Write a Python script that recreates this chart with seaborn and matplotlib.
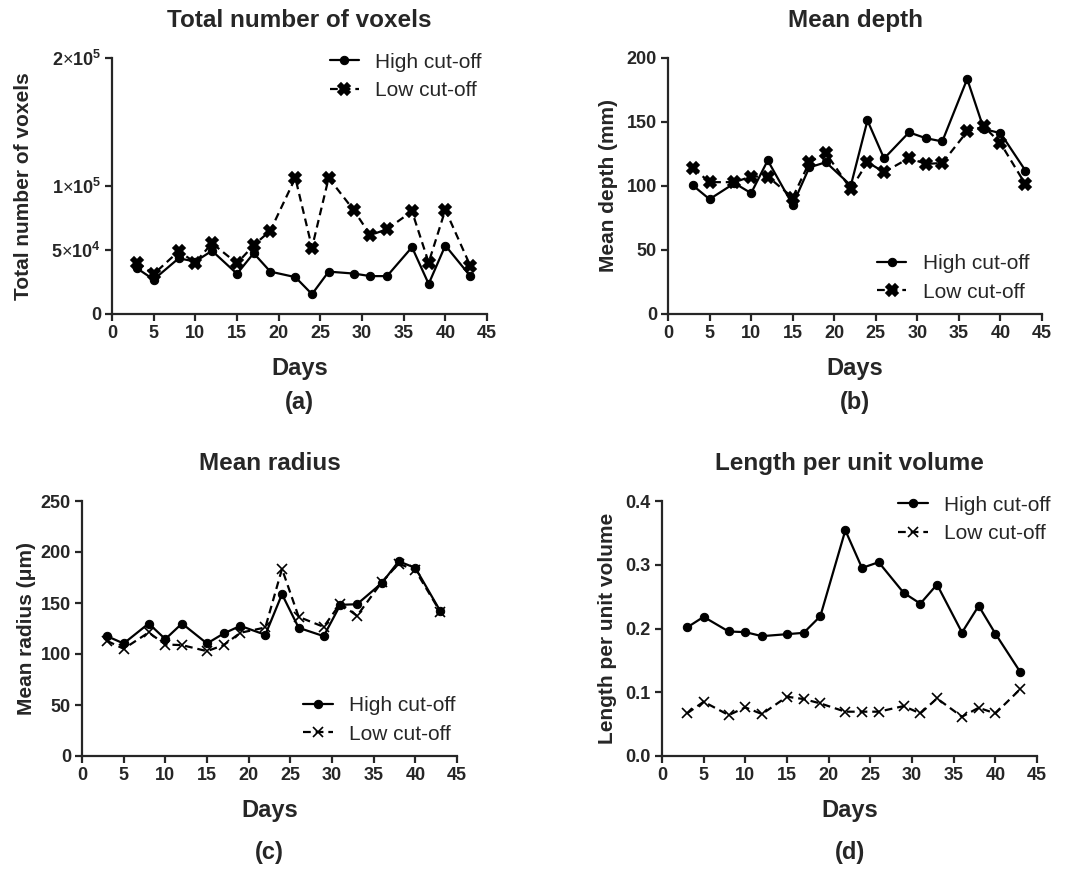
import numpy as np
import matplotlib
matplotlib.use('Agg')
import matplotlib.pyplot as plt
import pandas as pd
import seaborn as sns

days = [3, 5, 8, 10, 12, 15, 17, 19, 22, 24, 26, 29, 31, 33, 36, 38, 40, 43]

voxels_high = [35700, 26900, 43500, 41000, 49400, 31400, 47500, 33100, 28800, 15500,
               33100, 31600, 29600, 29600, 52200, 23500, 53500, 29600]
voxels_low = [40200, 31200, 49000, 40200, 55300, 39600, 53700, 65100, 106300, 51800,
              106300, 81200, 61600, 66300, 80200, 40200, 81400, 37600]

depth_high = [100.4, 89.7, 102.2, 94.4, 120.0, 85.3, 114.5, 118.6, 100.4, 151.2,
              121.5, 141.9, 137.4, 134.8, 183.6, 144.5, 141.3, 112.1]
depth_low = [114.0, 103.0, 103.0, 107.4, 107.4, 91.0, 118.4, 125.7, 97.5, 118.6,
             110.8, 121.8, 117.3, 117.9, 142.6, 146.5, 133.5, 101.4]

radius_high = [117.5, 110.3, 129.9, 114.6, 129.9, 110.3, 120.1, 127.6, 118.8, 158.6,
               125.7, 117.5, 148.2, 148.8, 169.7, 190.9, 184.4, 142.0]
radius_low = [112.9, 105.1, 121.1, 109.3, 108.7, 102.8, 108.7, 120.8, 126.0, 183.4,
              136.4, 126.6, 149.5, 137.4, 170.7, 188.6, 182.1, 141.3]

length_high = [0.2016, 0.2183, 0.1953, 0.1943, 0.188, 0.1911, 0.1932, 0.2193, 0.354, 0.295,
               0.304, 0.256, 0.239, 0.269, 0.1937, 0.2355, 0.192, 0.1316]
length_low = [0.0668, 0.0851, 0.0642, 0.0762, 0.0658, 0.093, 0.0893, 0.0825, 0.0695, 0.0695,
              0.0695, 0.0783, 0.0668, 0.0903, 0.0616, 0.0757, 0.0668, 0.105]

sns.set_style('ticks')
plt.rcParams['font.family'] = ['Liberation Sans', 'DejaVu Sans']
plt.rcParams['mathtext.fontset'] = 'custom'
plt.rcParams['mathtext.rm'] = 'Liberation Sans'
plt.rcParams['mathtext.bf'] = 'Liberation Sans:bold'

fig = plt.figure(figsize=(10.7, 8.69), dpi=100)

W, H = 1070.0, 869.0
def box(x0, x1, ytop, ybot):
    return [x0 / W, 1 - ybot / H, (x1 - x0) / W, (ybot - ytop) / H]

panels = [
    dict(pos=box(112, 487, 58, 314), high=voxels_high, low=voxels_low,
         title='Total number of voxels', ylabel='Total number of voxels', ypad=13,
         ylim=200000, yticks=[0, 50000, 100000, 200000],
         yticklabels=['0', r'$\mathbf{5}{\times}\mathbf{10^{4}}$',
                      r'$\mathbf{1}{\times}\mathbf{10^{5}}$', r'$\mathbf{2}{\times}\mathbf{10^{5}}$'],
         lowmarker='X', lowms=8, leg=dict(loc='upper right', bbox_to_anchor=(1.02, 1.07)),
         tag='(a)', tag_y=402),
    dict(pos=box(668, 1042, 58, 314), high=depth_high, low=depth_low,
         title='Mean depth', ylabel='Mean depth (mm)', ypad=6,
         ylim=200, yticks=[0, 50, 100, 150, 200], yticklabels=None,
         lowmarker='X', lowms=8, leg=dict(loc='lower right', bbox_to_anchor=(1.0, 0.0)),
         tag='(b)', tag_y=402),
    dict(pos=box(82, 457, 501, 756), high=radius_high, low=radius_low,
         title='Mean radius', ylabel='Mean radius (μm)', ypad=3,
         ylim=250, yticks=[0, 50, 100, 150, 200, 250], yticklabels=None,
         lowmarker='x', lowms=7, leg=dict(loc='lower right', bbox_to_anchor=(1.03, 0.0)),
         tag='(c)', tag_y=853),
    dict(pos=box(662, 1037, 501, 756), high=length_high, low=length_low,
         title='Length per unit volume', ylabel='Length per unit volume', ypad=6,
         ylim=0.4, yticks=[0.0, 0.1, 0.2, 0.3, 0.4], yticklabels=['0.0', '0.1', '0.2', '0.3', '0.4'],
         lowmarker='x', lowms=7, leg=dict(loc='upper right', bbox_to_anchor=(1.07, 1.07)),
         tag='(d)', tag_y=853),
]

for p in panels:
    ax = fig.add_axes(p['pos'])
    df = pd.DataFrame({'Days': days, 'High': p['high'], 'Low': p['low']})
    sns.lineplot(data=df, x='Days', y='High', ax=ax, color='black', lw=1.6,
                 marker='o', markersize=6, markeredgecolor='black', label='High cut-off')
    sns.lineplot(data=df, x='Days', y='Low', ax=ax, color='black', lw=1.6,
                 linestyle=(0, (3.5, 2.2)), marker=p['lowmarker'], markersize=p['lowms'],
                 markeredgecolor='black', markeredgewidth=1.2, label='Low cut-off')
    ax.set_xlim(0, 45)
    ax.set_ylim(0, p['ylim'])
    ax.set_xticks(range(0, 46, 5))
    ax.set_yticks(p['yticks'])
    if p['yticklabels'] is not None:
        ax.set_yticklabels(p['yticklabels'])
    sns.despine(ax=ax)
    for s in ['left', 'bottom']:
        ax.spines[s].set_linewidth(1.6)
    ax.tick_params(width=1.6, length=5, labelsize=13, pad=3)
    for lab in ax.get_xticklabels() + ax.get_yticklabels():
        lab.set_fontweight('bold')
    ax.set_xlabel('Days', fontsize=17, fontweight='bold', labelpad=11)
    ax.set_ylabel(p['ylabel'], fontsize=15, fontweight='bold', labelpad=p['ypad'])
    ax.set_title(p['title'], fontsize=17.5, fontweight='bold', pad=22)
    ax.legend(frameon=False, fontsize=15, handlelength=1.4, handletextpad=0.8,
              labelspacing=0.45, borderaxespad=0.2, **p['leg'])
    cx = p['pos'][0] + p['pos'][2] / 2
    fig.text(cx, 1 - p['tag_y'] / H, p['tag'], ha='center', va='center',
             fontsize=17, fontweight='bold')

fig.savefig('out.png', dpi=100)
